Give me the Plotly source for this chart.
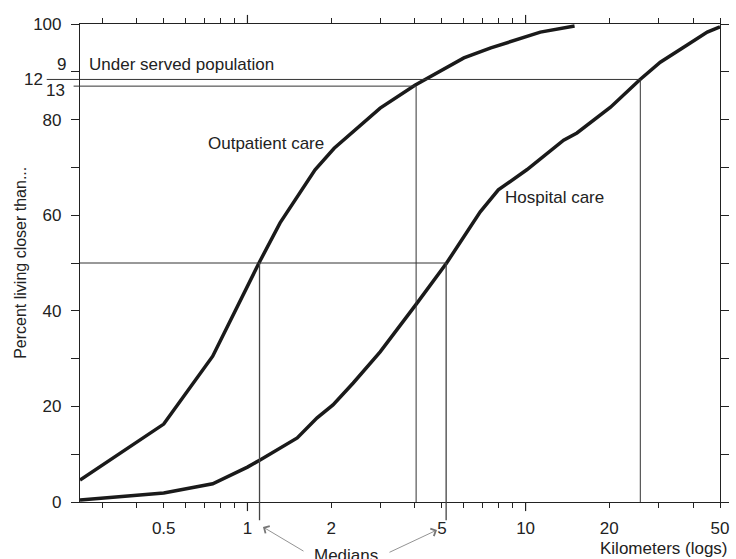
import math
import plotly.graph_objects as go

# ---- data ----
outpatient_km = [0.25, 0.5, 0.75, 1.1, 1.31, 1.51, 1.75, 2.05, 3.0, 4.0, 5.0, 6.0, 7.5, 9.3, 11.3, 15.0]
outpatient_pct = [4.6, 16.3, 30.5, 50.0, 58.4, 63.8, 69.5, 74.0, 82.4, 87.2, 90.4, 92.9, 95.0, 96.7, 98.3, 99.6]

hospital_km = [0.25, 0.5, 0.75, 1.0, 1.11, 1.51, 1.78, 2.03, 2.4, 3.0, 4.07, 5.2, 6.87, 7.98, 10.1,
               13.7, 15.3, 20.2, 25.8, 30.5, 38.1, 45.0, 50.0]
hospital_pct = [0.4, 1.9, 3.8, 7.3, 8.8, 13.4, 17.6, 20.3, 24.9, 31.4, 41.6, 50.0, 60.7, 65.3, 69.5,
                75.7, 77.2, 82.6, 88.4, 92.0, 95.6, 98.3, 99.4]

median_pct = 50
median_km = [1.105, 5.18]          # outpatient, hospital
underserved_pct = [87.0, 88.4]     # outpatient, hospital
underserved_km = [4.04, 25.85]     # outpatient, hospital

x_range = [0.25, 50]
y_range = [0, 100]
x_tick_vals = [0.3, 0.4, 0.5, 0.6, 0.7, 0.8, 0.9, 1, 2, 3, 4, 5, 6, 7, 8, 9, 10, 20, 30, 40, 50]
x_tick_text = ["", "", "0.5", "", "", "", "", "1", "2", "", "", "5", "", "", "", "", "10", "20", "", "", "50"]
x_long_ticks = [1, 10]
y_tick_vals = [0, 10, 20, 30, 40, 50, 60, 70, 80, 90, 100]
y_tick_text = ["0", "", "20", "", "40", "", "60", "", "80", "", "100"]
side_labels = ["9", "12", "13"]
side_label_pct = [91.6, 88.4, 86.0]

FONT = "Liberation Sans, Arial, Helvetica, sans-serif"
INK = "#222222"

fig = go.Figure()
fig.add_trace(go.Scatter(x=outpatient_km, y=outpatient_pct, mode="lines",
                         line=dict(color="#1a1a1a", width=3.5), showlegend=False, hoverinfo="skip"))
fig.add_trace(go.Scatter(x=hospital_km, y=hospital_pct, mode="lines",
                         line=dict(color="#1a1a1a", width=3.5), showlegend=False, hoverinfo="skip"))
# invisible trace registering the top tick axis
fig.add_trace(go.Scatter(x=hospital_km, y=hospital_pct, xaxis="x2", mode="lines",
                         line=dict(width=0, color="rgba(0,0,0,0)"), showlegend=False, hoverinfo="skip"))

thin = dict(color="#333333", width=1)
shapes = []
# 50 % line and median verticals (extending below the axis)
shapes.append(dict(type="line", xref="x", yref="y", x0=x_range[0], x1=median_km[1],
                   y0=median_pct, y1=median_pct, line=thin))
for km in median_km:
    shapes.append(dict(type="line", xref="x", yref="paper", x0=km, x1=km,
                       y0=median_pct / y_range[1], y1=-0.038, line=dict(color="#444444", width=1.3)))
# under-served lines
stub_len = [-0.01, -0.052]
for km, pct, stub in zip(underserved_km, underserved_pct, stub_len):
    shapes.append(dict(type="line", xref="paper", yref="y", x0=stub, x1=0, y0=pct, y1=pct, line=thin))
    shapes.append(dict(type="line", xref="x", yref="y", x0=x_range[0], x1=km, y0=pct, y1=pct, line=thin))
    shapes.append(dict(type="line", xref="x", yref="y", x0=km, x1=km, y0=pct, y1=y_range[0], line=thin))
# longer ticks at 1 and 10 (bottom and top)
for km in x_long_ticks:
    shapes.append(dict(type="line", xref="x", yref="paper", x0=km, x1=km, y0=0, y1=-0.019,
                       line=dict(color=INK, width=1.2)))
    shapes.append(dict(type="line", xref="x", yref="paper", x0=km, x1=km, y0=1, y1=1.019,
                       line=dict(color=INK, width=1.2)))

tf = dict(family=FONT, size=17, color=INK)


def note(text, x, y, xanchor="center", yref="paper", **kw):
    d = dict(text=text, xref="paper", yref=yref, x=x, y=y, xanchor=xanchor, yanchor="middle",
             showarrow=False, font=tf)
    d.update(kw)
    return d


annotations = [
    note("Outpatient care", 0.2906, 0.749),
    note("Hospital care", 0.7414, 0.636),
    note("Under served population", 0.011, 0.916, xanchor="left"),
    note("Kilometers (logs)", 1.0156, -0.098, xanchor="right"),
    note("Medians", 0.4156, -0.111),
    note("Percent living closer than...", -0.094, 0.5, textangle=-90,
         font=dict(family=FONT, size=16, color=INK)),
    dict(text="", xref="paper", yref="paper", x=0.2859, y=-0.0523, ax=42, ay=25, showarrow=True,
         arrowhead=4, arrowsize=2, arrowwidth=0.8, arrowcolor="#777777", standoff=0),
    dict(text="", xref="paper", yref="paper", x=0.5578, y=-0.0586, ax=-49, ay=23, showarrow=True,
         arrowhead=4, arrowsize=2, arrowwidth=0.8, arrowcolor="#777777", standoff=0),
]
side_x = [-0.019, -0.055, -0.020]
for lab, pct, sx in zip(side_labels, side_label_pct, side_x):
    annotations.append(note(lab, sx, pct, xanchor="right", yref="y"))

log_range = [math.log10(v) for v in x_range]
fig.update_layout(
    width=736, height=559, autosize=False,
    margin=dict(l=80, r=16, t=24, b=57, autoexpand=False),
    paper_bgcolor="white", plot_bgcolor="white",
    font=dict(family=FONT, size=17, color=INK),
    shapes=shapes, annotations=annotations,
    xaxis=dict(type="log", range=log_range, tickmode="array", tickvals=x_tick_vals, ticktext=x_tick_text,
               ticks="outside", ticklen=5, tickwidth=1, tickcolor=INK, showline=True, linecolor=INK,
               linewidth=1.2, mirror=True, showgrid=False, zeroline=False, automargin=False,
               tickfont=dict(family=FONT, size=17, color=INK), ticklabelstandoff=5),
    xaxis2=dict(type="log", range=log_range, overlaying="x", anchor="y", side="top",
                tickmode="array", tickvals=x_tick_vals, ticks="outside", ticklen=5, tickwidth=1,
                tickcolor=INK, showticklabels=False, showline=False, showgrid=False, zeroline=False,
                automargin=False),
    yaxis=dict(range=y_range, tickmode="array", tickvals=y_tick_vals, ticktext=y_tick_text,
               ticks="outside", ticklen=8, tickwidth=1, tickcolor=INK, showline=True, linecolor=INK,
               linewidth=1.2, mirror="ticks", showgrid=False, zeroline=False, automargin=False,
               tickfont=dict(family=FONT, size=17, color=INK), ticklabelstandoff=6),
)

fig.write_html("out.html", config={"displayModeBar": False},
               post_script="document.body.style.margin='0';document.body.style.overflow='hidden';")
